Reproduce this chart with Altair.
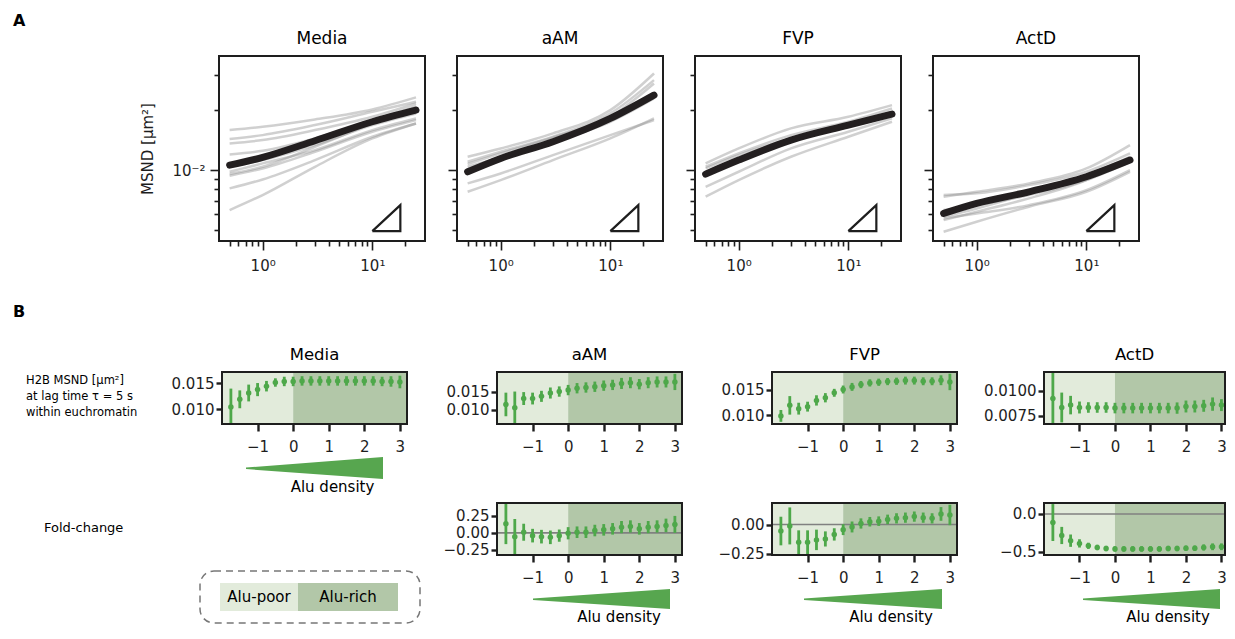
import altair as alt
import pandas as pd

FONT = "DejaVu Sans"
GREEN = "#4ea84a"
WEDGE = "#57a64f"
LIGHT = "#e2ebdb"
DARK = "#b2c7a8"
INK = "#1e1e1e"

# ---------------- Panel A data ----------------
conditions = ["Media", "aAM", "FVP", "ActD"]
lag_times = [0.5, 1, 3, 10, 25]

media_cells = [
    [0.01585, 0.01647, 0.01792, 0.0201, 0.02309],
    [0.01429, 0.01496, 0.01679, 0.01957, 0.02197],
    [0.0136, 0.01413, 0.01585, 0.01848, 0.02154],
    [0.01198, 0.0125, 0.0144, 0.01778, 0.02089],
    [0.00955, 0.01039, 0.01308, 0.01711, 0.02057],
    [0.00937, 0.01019, 0.01235, 0.01555, 0.01778],
    [0.0081, 0.00898, 0.01122, 0.01468, 0.01711],
    [0.00631, 0.0075, 0.01039, 0.0144, 0.01711],
    [0.01039, 0.01122, 0.01334, 0.01679, 0.0192],
    [0.00981, 0.0108, 0.01259, 0.01585, 0.01813],
]
media_mean = [0.01059, 0.01157, 0.01402, 0.01745, 0.01995]

aam_cells = [
    [0.01166, 0.01283, 0.01526, 0.01995, 0.03043],
    [0.011, 0.01235, 0.01468, 0.0192, 0.02818],
    [0.01072, 0.01212, 0.01457, 0.01848, 0.02712],
    [0.00858, 0.00962, 0.01189, 0.01496, 0.01778],
    [0.00779, 0.00891, 0.01122, 0.0144, 0.01813],
    [0.01039, 0.01157, 0.01387, 0.01745, 0.02282],
]
aam_mean = [0.00981, 0.01144, 0.01387, 0.01813, 0.02371]

fvp_cells = [
    [0.0108, 0.01283, 0.01616, 0.01848, 0.02113],
    [0.01039, 0.01212, 0.01496, 0.01745, 0.02034],
    [0.00825, 0.00981, 0.01283, 0.01555, 0.01813],
    [0.00736, 0.00891, 0.01166, 0.01468, 0.01745],
    [0.01019, 0.01189, 0.0144, 0.01679, 0.01884],
    [0.00981, 0.01144, 0.01413, 0.01647, 0.0192],
]
fvp_mean = [0.00955, 0.01122, 0.01413, 0.01679, 0.01906]

actd_cells = [
    [0.0075, 0.00765, 0.00841, 0.00981, 0.01212],
    [0.00736, 0.00779, 0.00858, 0.01019, 0.01334],
    [0.00584, 0.00643, 0.00765, 0.00944, 0.01166],
    [0.00562, 0.00619, 0.00722, 0.00891, 0.01144],
    [0.00492, 0.00552, 0.00656, 0.00779, 0.00981],
    [0.00573, 0.00607, 0.00668, 0.00794, 0.01],
    [0.00631, 0.00668, 0.0075, 0.00891, 0.011],
]
actd_mean = [0.00607, 0.00681, 0.00779, 0.00926, 0.01122]

slope_lag = [10, 18, 18, 10]
slope_msnd = [0.00495, 0.00495, 0.00668, 0.00495]

# ---------------- Panel B data ----------------
alu_bins = [-1.75, -1.5, -1.25, -1.0, -0.75, -0.5, -0.25, 0.0, 0.25, 0.5,
            0.75, 1.0, 1.25, 1.5, 1.75, 2.0, 2.25, 2.5, 2.75, 3.0]

media_msnd = [0.01044, 0.0119, 0.0131, 0.01375, 0.0144, 0.0151, 0.0153, 0.0153, 0.0154, 0.0154,
              0.0154, 0.0154, 0.0154, 0.0154, 0.0154, 0.0154, 0.0154, 0.0153, 0.0153, 0.0152]
media_err = [0.0035, 0.0017, 0.0016, 0.00125, 0.001, 0.0008, 0.0009, 0.0009, 0.0009, 0.0009,
             0.0009, 0.0009, 0.0009, 0.0009, 0.0009, 0.0009, 0.0009, 0.0009, 0.001, 0.0012]

aam_msnd = [0.0115, 0.0106, 0.0131, 0.0131, 0.0137, 0.0146, 0.0150, 0.0154, 0.0159, 0.0161,
            0.0163, 0.0166, 0.0168, 0.0172, 0.0174, 0.0170, 0.0174, 0.0176, 0.0176, 0.0176]
aam_err = [0.0032, 0.0044, 0.00175, 0.0016, 0.0015, 0.0015, 0.0014, 0.0014, 0.0014, 0.0014,
           0.0014, 0.0014, 0.0014, 0.0015, 0.0015, 0.0014, 0.0015, 0.0015, 0.0015, 0.0022]

fvp_msnd = [0.00987, 0.01192, 0.01128, 0.01167, 0.01288, 0.0134, 0.01436, 0.0150, 0.01551, 0.01596,
            0.01628, 0.01641, 0.01654, 0.0166, 0.01673, 0.01673, 0.0166, 0.0166, 0.0168, 0.01647]
fvp_err = [0.00115, 0.0018, 0.00115, 0.00096, 0.001, 0.0009, 0.00077, 0.00077, 0.00077, 0.0007,
           0.0007, 0.0007, 0.0007, 0.0007, 0.00077, 0.00077, 0.00077, 0.00077, 0.00096, 0.0016]

actd_msnd = [0.00923, 0.00833, 0.00857, 0.00833, 0.00833, 0.00833, 0.00833, 0.00827, 0.00827, 0.00827,
             0.00827, 0.00827, 0.00827, 0.00827, 0.00827, 0.00843, 0.00843, 0.0085, 0.00867, 0.00857]
actd_err = [0.0026, 0.0015, 0.00093, 0.0006, 0.00053, 0.00053, 0.00053, 0.00053, 0.00053, 0.00053,
            0.00053, 0.00053, 0.00053, 0.00053, 0.00057, 0.0006, 0.0006, 0.0006, 0.00067, 0.0006]

aam_fold = [0.135, -0.055, 0.01, -0.04, -0.055, -0.065, -0.04, -0.005, 0.01, 0.01,
            0.035, 0.045, 0.06, 0.085, 0.095, 0.06, 0.085, 0.095, 0.11, 0.125]
aam_fold_err = [0.30, 0.26, 0.125, 0.1, 0.1, 0.1, 0.09, 0.09, 0.085, 0.085,
                0.085, 0.085, 0.085, 0.09, 0.09, 0.085, 0.09, 0.09, 0.1, 0.125]

fvp_fold = [-0.056, -0.012, -0.153, -0.153, -0.132, -0.124, -0.085, -0.044, -0.021, 0.009,
            0.024, 0.029, 0.044, 0.053, 0.059, 0.068, 0.059, 0.053, 0.091, 0.082]
fvp_fold_err = [0.123, 0.159, 0.103, 0.103, 0.088, 0.065, 0.053, 0.047, 0.047, 0.044,
                0.041, 0.041, 0.041, 0.044, 0.044, 0.044, 0.044, 0.044, 0.059, 0.088]

actd_fold = [-0.114, -0.286, -0.355, -0.391, -0.423, -0.445, -0.459, -0.464, -0.464, -0.464,
             -0.464, -0.464, -0.464, -0.459, -0.459, -0.455, -0.455, -0.445, -0.436, -0.436]
actd_fold_err = [0.245, 0.114, 0.082, 0.055, 0.041, 0.036, 0.036, 0.036, 0.036, 0.036,
                 0.036, 0.036, 0.036, 0.036, 0.036, 0.036, 0.036, 0.041, 0.045, 0.045]

region_names = ["Alu-poor", "Alu-rich"]
region_colors = [LIGHT, DARK]
alu_lo = -2.0

wedge_pos = [0.0, 1.0]
wedge_top = [0.52, 1.0]
wedge_bottom = [0.45, 0.0]

panel_letters = ["A", "B"]
msnd_label_lines = ["H2B MSND [μm²]", "at lag time τ = 5 s", "within euchromatin"]
fold_label = "Fold-change"
wedge_label = "Alu density"

# ---------------- layout (pixels in the canvas) ----------------
W, H = 1218, 619
WA = 206
A_X0 = [211, 449, 687, 925]
A_Y0, A_Y1 = 48, 233
# (left, width, x-domain max) of the four panel-B columns
B_COLS = [(214, 185, 3.2), (489, 185, 3.2), (764, 185, 3.2), (1036, 181, 3.1)]
B1_Y0, B1_Y1 = 364, 416
B2_Y0, B2_Y1 = 495, 547
WEDGE2_TOP, WEDGE2_BOT = 581, 601


def one(col, val):
    return pd.DataFrame({col: [val]})


def frame(x0, x1, y0, y1):
    return alt.Chart(one("f", 0)).mark_rect(
        filled=False, stroke=INK, strokeWidth=2
    ).encode(x=alt.value(x0), x2=alt.value(x1), y=alt.value(y0), y2=alt.value(y1))


def label(text, x, y, size=16, weight="normal", align="center", baseline="middle", **kw):
    return alt.Chart(one("t", text)).mark_text(
        font=FONT, fontSize=size, fontWeight=weight, align=align, baseline=baseline,
        color="#000", **kw
    ).encode(text="t:N", x=alt.value(x), y=alt.value(y))


def msnd_panel(name, cells, mean, first, x0):
    rows = []
    for i, c in enumerate(cells):
        for t, v in zip(lag_times, c):
            rows.append({"cell": i, "lag": t, "msnd": v})
    cells_df = pd.DataFrame(rows)
    mean_df = pd.DataFrame({"lag": lag_times, "msnd": mean})
    tri_df = pd.DataFrame({"lag": slope_lag, "msnd": slope_msnd, "k": list(range(len(slope_lag)))})

    xs = alt.Scale(type="log", domain=[0.4, 30.2], range=[x0, x0 + WA], nice=False)
    ys = alt.Scale(type="log", domain=[0.00442, 0.0372], range=[A_Y1, A_Y0], nice=False)
    common = dict(domain=False, grid=False, tickColor=INK, tickWidth=1.6,
                  labelFontSize=15, labelColor=INK, labelFont=FONT)
    xoff = A_Y1 - H
    major_x = alt.Axis(values=[1, 10], orient="bottom", offset=xoff, tickSize=9, labelPadding=8,
                       labelExpr="datum.value < 5 ? '10⁰' : '10¹'", **common)
    minor_x = alt.Axis(values=[0.5, 0.6, 0.7, 0.8, 0.9, 2, 3, 4, 5, 6, 7, 8, 9, 20],
                       orient="bottom", offset=xoff, tickSize=5, labels=False, **common)
    major_y = alt.Axis(values=[0.01], orient="left", offset=-x0, tickSize=9, labelPadding=5,
                       labels=first, labelExpr="'10⁻²'", titleFontSize=15,
                       titleFont=FONT, titleFontWeight="normal", titleColor=INK,
                       titlePadding=16, **common)
    minor_y = alt.Axis(values=[0.005, 0.006, 0.007, 0.008, 0.009, 0.02, 0.03],
                       orient="left", offset=-x0, tickSize=5, labels=False, **common)

    gray = alt.Chart(cells_df).mark_line(
        color="#8f8f8f", opacity=0.42, strokeWidth=2.5, interpolate="monotone"
    ).encode(
        x=alt.X("lag:Q", scale=xs, axis=major_x, title=None),
        y=alt.Y("msnd:Q", scale=ys, axis=major_y,
                title="MSND [μm²]" if first else None),
        detail="cell:N",
    )
    black = alt.Chart(mean_df).mark_line(
        color="#231f20", strokeWidth=7, strokeCap="round", interpolate="monotone"
    ).encode(
        x=alt.X("lag:Q", scale=xs, axis=minor_x, title=None),
        y=alt.Y("msnd:Q", scale=ys, axis=minor_y, title=None),
    )
    tri = alt.Chart(tri_df).mark_line(color=INK, strokeWidth=2.2, strokeJoin="miter").encode(
        x=alt.X("lag:Q", scale=xs, axis=None),
        y=alt.Y("msnd:Q", scale=ys, axis=None),
        order="k:Q",
    )
    return alt.layer(
        gray, black, tri, frame(x0, x0 + WA, A_Y0, A_Y1),
        label(name, x0 + WA / 2, 31, size=17),
    ).resolve_axis(x="independent", y="independent")


def alu_panel(vals, errs, ydom, yvals, yfmt, col, y0, y1, title=None, zero=False):
    x0, wb, hi = col
    df = pd.DataFrame({
        "alu": alu_bins, "v": vals,
        "lo": [v - e for v, e in zip(vals, errs)],
        "hi": [v + e for v, e in zip(vals, errs)],
    })
    reg = pd.DataFrame({"region": region_names, "start": [alu_lo, 0.0], "end": [0.0, hi]})
    xs = alt.Scale(domain=[alu_lo, hi], range=[x0, x0 + wb], nice=False, zero=False)
    ys = alt.Scale(domain=ydom, range=[y1, y0], nice=False, zero=False, clamp=True)
    common = dict(domain=False, grid=False, tickColor=INK, tickWidth=2.4,
                  labelFontSize=15, labelColor=INK, labelFont=FONT, title=None)
    xaxis = alt.Axis(values=[-1, 0, 1, 2, 3], format="d", orient="bottom", offset=y1 - H,
                     tickSize=7, labelPadding=8, **common)
    yaxis = alt.Axis(values=yvals, format=yfmt, orient="left", offset=-x0,
                     tickSize=6, labelPadding=2, **common)

    bg = alt.Chart(reg).mark_rect().encode(
        x=alt.X("start:Q", scale=xs, axis=xaxis),
        x2="end:Q",
        y=alt.value(y0), y2=alt.value(y1),
        color=alt.Color("region:N", scale=alt.Scale(domain=region_names, range=region_colors),
                        legend=None),
    )
    bars = alt.Chart(df).mark_rule(color=GREEN, strokeWidth=2.8).encode(
        x=alt.X("alu:Q", scale=xs, axis=xaxis),
        y=alt.Y("lo:Q", scale=ys, axis=yaxis),
        y2="hi:Q",
    )
    pts = alt.Chart(df).mark_point(filled=True, color=GREEN, size=30, opacity=1).encode(
        x=alt.X("alu:Q", scale=xs, axis=xaxis),
        y=alt.Y("v:Q", scale=ys, axis=yaxis),
    )
    layers = [bg]
    if zero:
        layers.append(alt.Chart(one("z", 0)).mark_rule(color="#808080", strokeWidth=1.6).encode(
            x=alt.X(datum=alu_lo, scale=xs, axis=xaxis),
            x2=alt.X2(datum=hi),
            y=alt.Y(datum=0, scale=ys, axis=yaxis)))
    layers += [bars, pts, frame(x0, x0 + wb, y0, y1)]
    if title:
        layers.append(label(title, x0 + wb / 2, y0 - 17, size=16.5))
    return alt.layer(*layers)


def wedge(x_lo, x_hi, y_top, y_bot, text_x):
    wdf = pd.DataFrame({"p": wedge_pos, "top": wedge_top, "bottom": wedge_bottom})
    area = alt.Chart(wdf).mark_area(color=WEDGE, opacity=1).encode(
        x=alt.X("p:Q", scale=alt.Scale(domain=[0, 1], range=[x_lo, x_hi]), axis=None),
        y=alt.Y("top:Q", scale=alt.Scale(domain=[0, 1], range=[y_bot, y_top]), axis=None),
        y2="bottom:Q",
    )
    return alt.layer(area, label(wedge_label, text_x, y_bot + 1, size=15, baseline="top"))


# ---------------- panels ----------------
panels = [
    msnd_panel("Media", media_cells, media_mean, True, A_X0[0]),
    msnd_panel("aAM", aam_cells, aam_mean, False, A_X0[1]),
    msnd_panel("FVP", fvp_cells, fvp_mean, False, A_X0[2]),
    msnd_panel("ActD", actd_cells, actd_mean, False, A_X0[3]),
    alu_panel(media_msnd, media_err, [0.0072, 0.0171], [0.010, 0.015], ".3f",
              B_COLS[0], B1_Y0, B1_Y1, "Media"),
    alu_panel(aam_msnd, aam_err, [0.0062, 0.0203], [0.010, 0.015], ".3f",
              B_COLS[1], B1_Y0, B1_Y1, "aAM"),
    alu_panel(fvp_msnd, fvp_err, [0.0083, 0.0184], [0.010, 0.015], ".3f",
              B_COLS[2], B1_Y0, B1_Y1, "FVP"),
    alu_panel(actd_msnd, actd_err, [0.00667, 0.0119], [0.0075, 0.0100], ".4f",
              B_COLS[3], B1_Y0, B1_Y1, "ActD"),
    alu_panel(aam_fold, aam_fold_err, [-0.325, 0.44], [-0.25, 0.0, 0.25], ".2f",
              B_COLS[1], B2_Y0, B2_Y1, zero=True),
    alu_panel(fvp_fold, fvp_fold_err, [-0.262, 0.185], [-0.25, 0.0], ".2f",
              B_COLS[2], B2_Y0, B2_Y1, zero=True),
    alu_panel(actd_fold, actd_fold_err, [-0.545, 0.145], [-0.5, 0.0], ".1f",
              B_COLS[3], B2_Y0, B2_Y1, zero=True),
    wedge(238, 375, 449, 471, 324.5),
    wedge(525, 662, WEDGE2_TOP, WEDGE2_BOT, 611),
    wedge(796, 934, WEDGE2_TOP, WEDGE2_BOT, 883),
    wedge(1075, 1212, WEDGE2_TOP, WEDGE2_BOT, 1160),
]

# ---------------- annotations ----------------
notes = [
    label(panel_letters[0], 5, 13, weight="bold", align="left"),
    label(panel_letters[1], 5, 304, weight="bold", align="left"),
    alt.Chart(one("t", "\n".join(msnd_label_lines))).mark_text(
        align="left", baseline="top", fontSize=11.5, font=FONT, color="#000",
        lineBreak="\n", lineHeight=16
    ).encode(text="t:N", x=alt.value(18), y=alt.value(367)),
    label(fold_label, 36, 520, size=13, align="left"),
    alt.Chart(one("f", 0)).mark_rect(
        filled=False, stroke="#777", strokeWidth=1.5, strokeDash=[7, 5], cornerRadius=14
    ).encode(x=alt.value(192), x2=alt.value(412), y=alt.value(563), y2=alt.value(615)),
]
legend_x0 = [212, 290]
legend_x1 = [290, 390]
for i, name in enumerate(region_names):
    notes.append(alt.Chart(one("region", name)).mark_rect(color=region_colors[i]).encode(
        x=alt.value(legend_x0[i]), x2=alt.value(legend_x1[i]),
        y=alt.value(575), y2=alt.value(603)))
    notes.append(label(name, (legend_x0[i] + legend_x1[i]) / 2, 589, size=15))

chart = alt.layer(*panels, *notes).resolve_scale(
    x="independent", y="independent"
).properties(
    width=W, height=H,
    padding={"left": 0, "top": 0, "right": 0, "bottom": 0},
    background="white",
).configure(font=FONT).configure_view(stroke=None)

chart.save("out.html", embed_options={"renderer": "svg", "actions": False})
